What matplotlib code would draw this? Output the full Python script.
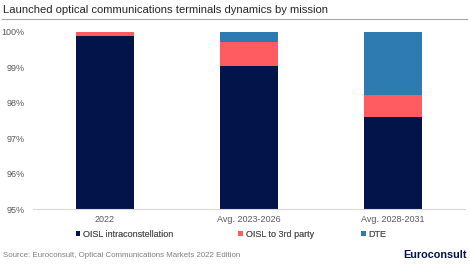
"""
Launched optical communications terminals dynamics by mission
Stacked 100% bar chart, zoomed to the 95-100% range
"""

import numpy as np
import matplotlib
matplotlib.use("Agg")
import matplotlib.pyplot as plt
from matplotlib.patches import Patch

plt.rcParams['font.family'] = ['Liberation Sans', 'DejaVu Sans']

# data (shares in %)
categories = ["2022", "Avg. 2023-2026", "Avg. 2028-2031"]
oisl_intra = [99.88, 99.05, 97.59]
oisl_3rd = [0.12, 0.67, 0.62]
dte = [0.0, 0.28, 1.79]
series_names = ["OISL intraconstellation", "OISL to 3rd party", "DTE"]
y_ticks = [95, 96, 97, 98, 99, 100]

colors = ["#03144A", "#FF5C61", "#2D7BB1"]
gray = "#595959"

fig = plt.figure(figsize=(4.7, 2.64), dpi=100)
ax = fig.add_axes([0.070, 0.208, 0.919, 0.671])

x = np.arange(len(categories))
bottom = np.zeros(len(categories))
for vals, col in zip([oisl_intra, oisl_3rd, dte], colors):
    ax.bar(x, vals, bottom=bottom, width=0.4, color=col, linewidth=0)
    bottom += np.array(vals)

ax.set_ylim(95, 100)
ax.set_xlim(-0.5, 2.5)
ax.set_yticks(y_ticks)
ax.set_yticklabels([f"{t}%" for t in y_ticks])
ax.set_xticks(x)
ax.set_xticklabels(categories)
ax.tick_params(axis='both', length=0, labelsize=6.5, colors=gray)
ax.tick_params(axis='y', pad=6)
ax.tick_params(axis='x', pad=4)
for s in ["top", "right", "left"]:
    ax.spines[s].set_visible(False)
ax.spines["bottom"].set_color("#D9D9D9")
ax.spines["bottom"].set_linewidth(0.8)

# legend, one entry per block like the Excel layout
legend_x = [0.161, 0.507, 0.769]
for name, col, lx in zip(series_names, colors, legend_x):
    leg = fig.legend([Patch(facecolor=col, edgecolor='none')], [name],
                     loc='center left', bbox_to_anchor=(lx, 0.113),
                     frameon=False, fontsize=6.5, handlelength=0.5, handleheight=0.5,
                     handletextpad=0.3, borderpad=0, borderaxespad=0, labelcolor=gray)
    fig.add_artist(leg)

# title and rule
fig.text(0.006, 0.962, "Launched optical communications terminals dynamics by mission",
         fontsize=8.1, color="#262626", va='center', ha='left')
fig.add_artist(plt.Line2D([0.004, 0.994], [0.928, 0.928], color="#A6A6A6", linewidth=0.8))

# source and logo
fig.text(0.006, 0.034, "Source: Euroconsult, Optical Communications Markets 2022 Edition",
         fontsize=5.7, color="#7F7F7F", va='center', ha='left')
fig.text(0.994, 0.034, "Euroconsult", fontsize=7.8, color="#03144A",
         va='center', ha='right', fontweight='semibold')

plt.savefig("out.png", dpi=100)
